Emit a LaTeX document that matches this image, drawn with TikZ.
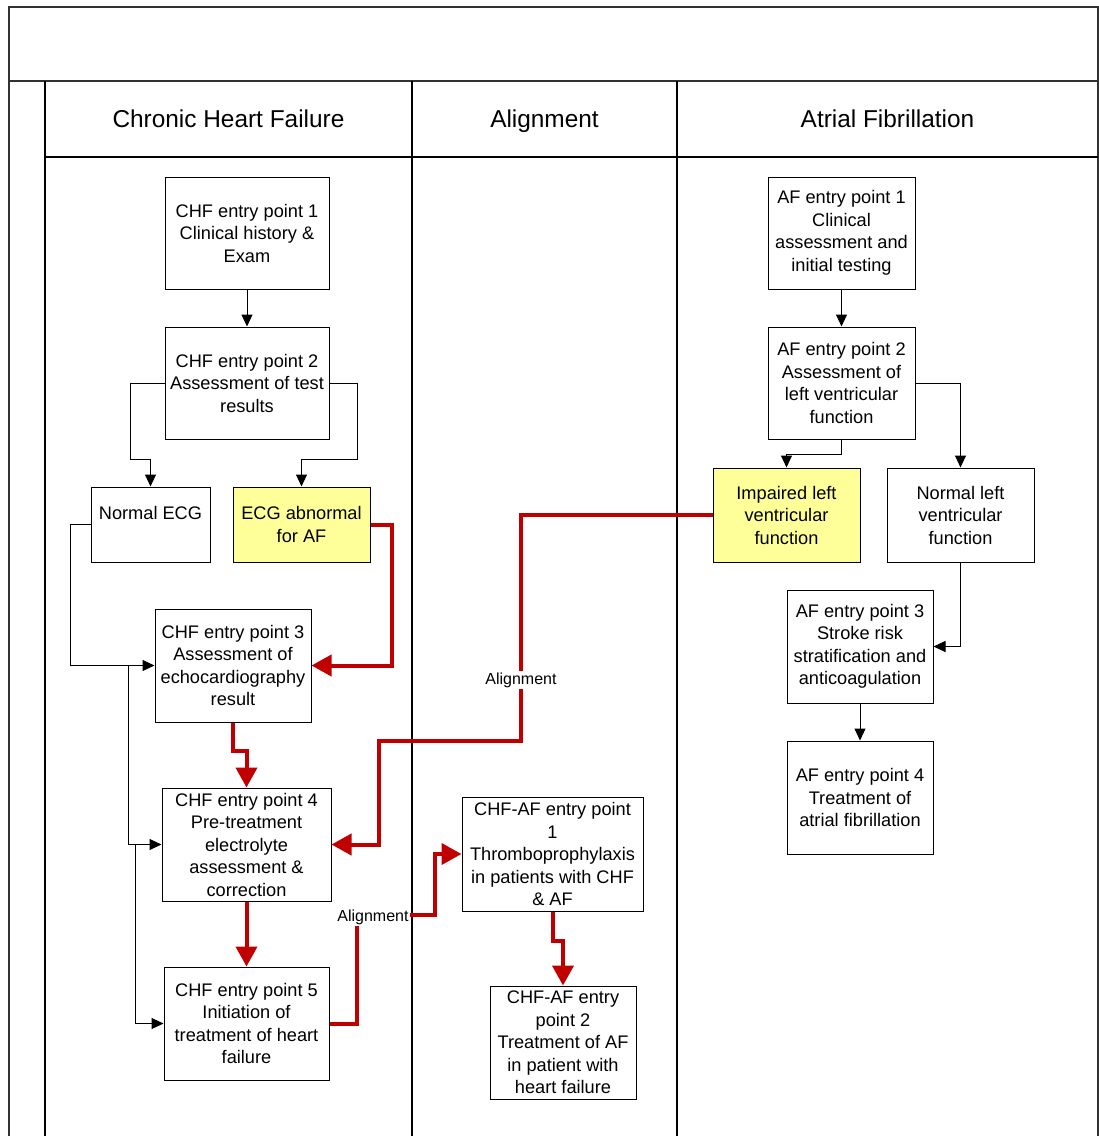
\documentclass[tikz,border=0pt]{standalone}
\usepackage{fontspec}
\setmainfont{Liberation Sans}
\usetikzlibrary{arrows.meta}
\definecolor{boxyellow}{RGB}{255,255,153}
\definecolor{alignred}{RGB}{192,0,0}
\definecolor{framegray}{RGB}{50,50,50}
\tikzset{
  box/.style={draw=black, line width=1pt, fill=white, inner sep=0pt, align=center,
    font=\fontsize{18.2}{22.5}\selectfont},
  hl/.style={box, fill=boxyellow},
  arr/.style={draw=black, line width=1pt, -{Triangle[length=12pt,width=11pt]}},
  redarr/.style={draw=alignred, line width=4pt, -{Triangle[length=20pt,width=21pt]}},
  lanehead/.style={font=\fontsize{24.4}{28}\selectfont, inner sep=0pt, text depth=0pt},
  alignlabel/.style={fill=white, inner sep=1.5pt, font=\fontsize{16}{18}\selectfont},
  frame/.style={draw=framegray, line width=2pt},
  lane/.style={draw=black, line width=1.2pt}
}
\begin{document}
\begin{tikzpicture}[x=1pt,y=-1pt]
\useasboundingbox (0,0) rectangle (1099,1136);
% frame
\draw[frame] (9,1136) -- (9,7) -- (1098,7) -- (1098,1136);
\draw[frame] (9,81) -- (1098,81);
\draw[lane] (45,81) -- (45,1136);
\draw[lane] (412,81) -- (412,1136);
\draw[lane] (677,81) -- (677,1136);
\draw[lane] (45,157) -- (1098,157);
\node[lanehead] (h1) at (228.5,119) {Chronic Heart Failure};
\node[lanehead] (h2) at (544.5,119) {Alignment};
\node[lanehead] (h3) at (887.5,119) {Atrial Fibrillation};
% CHF lane
\node[box, minimum width=164pt, minimum height=112pt] (chf1) at (247,233) {CHF entry point 1\\Clinical history \&\\Exam};
\node[box, minimum width=164pt, minimum height=112pt] (chf2) at (247,383) {CHF entry point 2\\Assessment of test\\results};
\node[box, minimum width=119pt, minimum height=75pt] (necg) at (150.5,524.5) {Normal ECG\\~};
\node[hl, minimum width=137pt, minimum height=75pt] (ecgab) at (301.5,524.5) {ECG abnormal\\for AF};
\node[box, minimum width=156pt, minimum height=113pt] (chf3) at (233,665.5) {CHF entry point 3\\Assessment of\\echocardiography\\result};
\node[box, minimum width=169pt, minimum height=113pt] (chf4) at (246.5,844.5) {CHF entry point 4\\Pre-treatment\\electrolyte\\assessment \&\\correction};
\node[box, minimum width=165pt, minimum height=113pt] (chf5) at (246.5,1023.5) {CHF entry point 5\\Initiation of\\treatment of heart\\failure};
% Alignment lane
\node[box, minimum width=181pt, minimum height=114pt] (caf1) at (552.5,854) {CHF-AF entry point\\1\\Thromboprophylaxis\\in patients with CHF\\\& AF};
\node[box, minimum width=146pt, minimum height=113pt] (caf2) at (563,1042.5) {CHF-AF entry\\point 2\\Treatment of AF\\in patient with\\heart failure};
% AF lane
\node[box, minimum width=147pt, minimum height=112pt] (af1) at (841.5,233) {AF entry point 1\\Clinical\\assessment and\\initial testing};
\node[box, minimum width=147pt, minimum height=112pt] (af2) at (841.5,383) {AF entry point 2\\Assessment of\\left ventricular\\function};
\node[hl, minimum width=147pt, minimum height=94pt] (imp) at (786.5,515) {Impaired left\\ventricular\\function};
\node[box, minimum width=147pt, minimum height=94pt] (nlv) at (960.5,515) {Normal left\\ventricular\\function};
\node[box, minimum width=146pt, minimum height=113pt] (af3) at (860,646.5) {AF entry point 3\\Stroke risk\\stratification and\\anticoagulation};
\node[box, minimum width=146pt, minimum height=113pt] (af4) at (860,797.5) {AF entry point 4\\Treatment of\\atrial fibrillation};
% junction coordinates
\coordinate (j1) at (128,665.5);
\coordinate (j2) at (135,844.5);
% black connectors
\draw[arr] (chf1.south) -- (chf2.north);
\draw[arr] (chf2.west) -| (130,459) -| (necg.north);
\draw[arr] (chf2.east) -| (357,459) -| (ecgab.north);
\draw[arr] (necg.west) -| (70,665.5) -- (chf3.west);
\draw[arr] (j1) |- (chf4.west);
\draw[arr] (j2) |- (chf5.west);
\draw[arr] (af1.south) -- (af2.north);
\draw[arr] (af2.south) -- ++(0,15) -| (imp.north);
\draw[arr] (af2.east) -| (nlv.north);
\draw[arr] (nlv.south) |- (af3.east);
\draw[arr] (af3.south) -- (af4.north);
% red connectors
\draw[redarr] (ecgab.east) -| (392,665.5) -- (chf3.east);
\draw[redarr] (chf3.south) -- ++(0,28) -| (chf4.north);
\draw[redarr] (chf4.south) -- (chf5.north);
\draw[redarr] (imp.west) -| (521,741) -| (379,844.5) -- (chf4.east);
\node[alignlabel] (al1) at (521,680) {Alignment};
\draw[redarr] (chf5.east) -| (357,915) -| (435,854) -- (caf1.west);
\node[alignlabel] (al2) at (373,917.5) {Alignment};
\draw[redarr] (caf1.south) -- ++(0,29) -| (caf2.north);
\end{tikzpicture}
\end{document}
